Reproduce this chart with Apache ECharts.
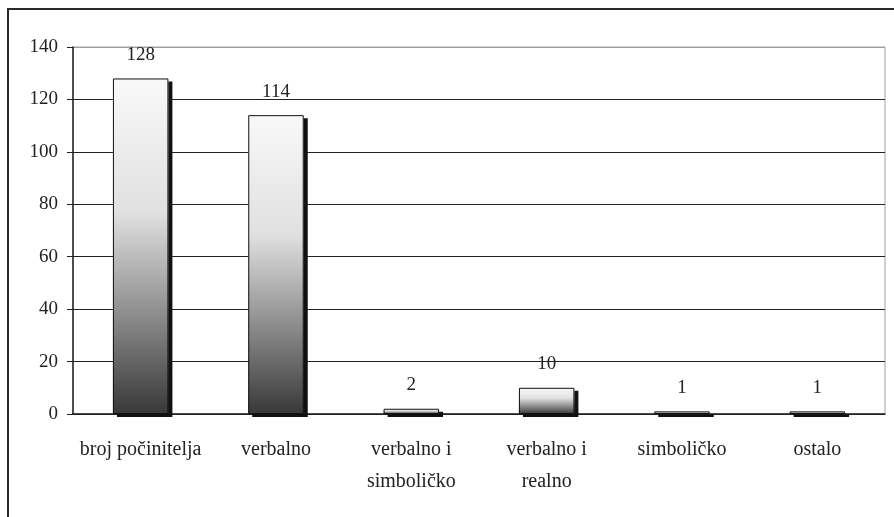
<!DOCTYPE html>
<html>
<head>
<meta charset="utf-8">
<script src="https://cdn.jsdelivr.net/npm/echarts@6/dist/echarts.min.js"></script>
<style>
  html, body { margin: 0; padding: 0; background: #fff; }
  #chart { width: 894px; height: 517px; }
</style>
</head>
<body>
<div id="chart"></div>
<script>
// categories and values
const categories = [
  "broj počinitelja",
  "verbalno",
  "verbalno i\nsimboličko",
  "verbalno i\nrealno",
  "simboličko",
  "ostalo",
];
const counts = [128, 114, 2, 10, 1, 1];

const font = "Liberation Serif";
let chart = echarts.init(document.getElementById("chart"));

let option = {
  backgroundColor: "#fff",
  animation: false,
  textStyle: { fontFamily: font },
  // outer frame (right/bottom edges fall outside the picture)
  graphic: [
    {
      type: "rect",
      shape: { x: 8, y: 9, width: 2000, height: 2000 },
      style: { fill: "none", stroke: "#2a2a2a", lineWidth: 2 },
    },
  ],
  grid: {
    left: 73,
    right: 9,
    top: 47,
    bottom: 103,
    show: true,
    borderColor: "#a0a0a0",
    borderWidth: 1,
  },
  xAxis: {
    type: "category",
    data: categories,
    axisLine: { lineStyle: { color: "#222", width: 1.5 } },
    axisTick: { length: 8, lineStyle: { color: "#222" } },
    axisLabel: {
      interval: 0,
      color: "#222",
      fontFamily: font,
      fontSize: 20,
      lineHeight: 32,
      margin: 20,
    },
  },
  yAxis: {
    type: "value",
    min: 0,
    max: 140,
    interval: 20,
    axisLine: { show: true, lineStyle: { color: "#222", width: 1.5 } },
    axisTick: { show: true, length: 6, lineStyle: { color: "#222" } },
    axisLabel: {
      color: "#222",
      fontFamily: font,
      fontSize: 19,
      margin: 15,
    },
    splitLine: {
      lineStyle: {
        color: ["#222", "#222", "#222", "#222", "#222", "#222", "#222", "#a0a0a0"],
        width: 1.2,
      },
    },
  },
  series: [
    {
      // gradient fill with the dark drop shadow
      type: "bar",
      data: counts,
      barWidth: "41%",
      barGap: "-100%",
      itemStyle: {
        shadowColor: "#111",
        shadowBlur: 0,
        shadowOffsetX: 4,
        shadowOffsetY: 3,
        color: new echarts.graphic.LinearGradient(0, 0, 0, 1, [
          { offset: 0, color: "#f9f9f9" },
          { offset: 0.4, color: "#e0e0e0" },
          { offset: 0.72, color: "#888" },
          { offset: 1, color: "#383838" },
        ]),
      },
    },
    {
      // outline and value labels on top
      type: "bar",
      data: counts,
      barWidth: "41%",
      barGap: "-100%",
      itemStyle: {
        color: "rgba(0,0,0,0)",
        borderColor: "#111",
        borderWidth: 1,
      },
      label: {
        show: true,
        position: "top",
        distance: 14,
        color: "#222",
        fontFamily: font,
        fontSize: 19,
      },
    },
  ],
};
chart.setOption(option);
</script>
</body>
</html>
